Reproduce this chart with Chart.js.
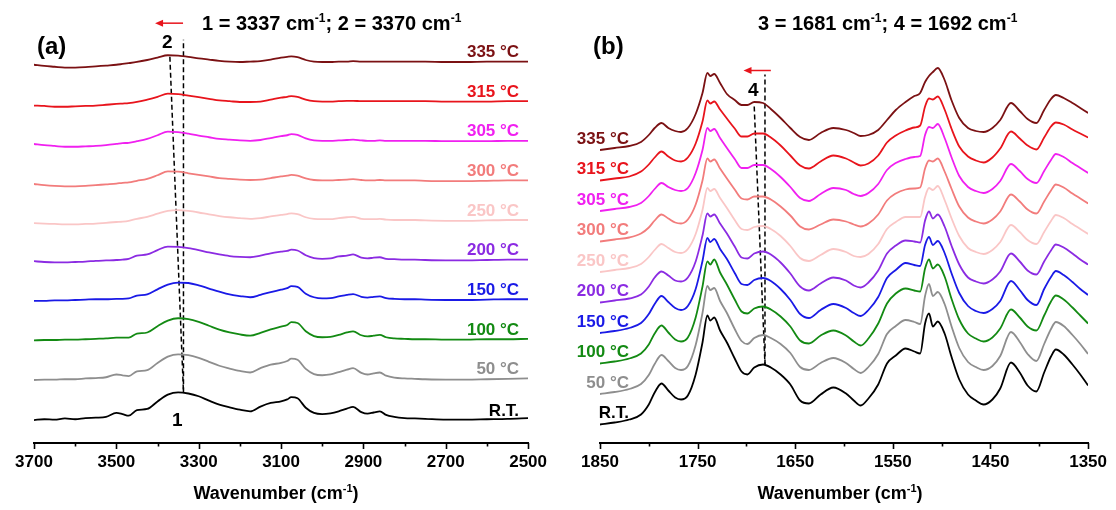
<!DOCTYPE html>
<html>
<head>
<meta charset="utf-8">
<script src="https://cdn.jsdelivr.net/npm/chart.js@4.4.1/dist/chart.umd.min.js"></script>
<style>
  html, body { margin: 0; padding: 0; background: #fff; }
  #wrap { position: relative; width: 1116px; height: 510px; }
  canvas { position: absolute; top: 0; }
</style>
</head>
<body>
<div id="wrap">
  <canvas id="panelA" width="556" height="510" style="left:0"></canvas>
  <canvas id="panelB" width="560" height="510" style="left:556px"></canvas>
</div>
<script>
const FONT = '"Liberation Sans", Arial, Helvetica, sans-serif';
const RED = '#E8141C';

// traces are listed bottom to top
const temps = ['R.T.', '50 °C', '100 °C', '150 °C', '200 °C', '250 °C', '300 °C', '305 °C', '315 °C', '335 °C'];
const colors = ['#000000', '#8E8E8E', '#138A13', '#1A1AE6', '#8B2BE2', '#FAC6C6', '#F27C7C', '#F020F0', '#E8141C', '#7B1113'];

// (a) 3700-2500 cm-1, absorbance x100 above each trace's baseline
const waveA = [3700, 3675, 3650, 3625, 3600, 3575, 3550, 3525, 3500, 3485, 3470, 3450, 3425, 3400, 3375,
  3350, 3325, 3300, 3275, 3250, 3225, 3200, 3175, 3150, 3125, 3100, 3085, 3075, 3060, 3040, 3020, 3000,
  2980, 2960, 2940, 2925, 2905, 2890, 2875, 2860, 2845, 2825, 2800, 2775, 2750, 2700, 2650, 2600, 2550, 2500];
const a_RT  = [-5,-3,-4,-1,-3,0,1,3,13,10,6,20,23,42,59,65,62,55,44,34,27,21,17,29,38,42,47,53,50,26,13,10,12,17,24,28,15,11,14,17,8,3,0,-1,-2,-4,-4,-3,-2,0];
const a_50  = [-4,-3,-3,-2,-2,0,1,3,10,8,6,18,21,39,55,61,59,52,42,32,25,19,15,26,35,39,44,50,47,24,11,8,10,16,22,26,14,10,13,15,7,2,0,-1,-2,-3,-3,-2,-1,0];
const a_100 = [-4,-3,-3,-2,-2,-1,0,1,3,3,3,13,16,32,46,52,50,43,33,23,16,11,8,15,24,31,35,42,40,19,7,4,5,10,16,19,9,6,8,10,4,1,0,-1,-1,-2,-2,-1,-1,0];
const a_150 = [-4,-4,-3,-3,-2,-1,0,0,1,1,2,9,12,25,37,42,41,35,27,19,12,8,5,11,18,24,28,33,31,14,5,2,3,7,11,13,6,4,6,7,3,1,0,0,-1,-2,-2,-1,0,0];
const a_200 = [-4,-6,-7,-7,-6,-5,-3,-2,-1,0,2,10,13,24,33,32,29,24,18,13,9,7,6,10,16,20,22,25,23,11,4,2,3,8,10,13,5,3,5,6,2,1,0,0,-1,-2,-2,-1,0,0];
const a_250 = [-8,-9,-10,-11,-11,-10,-9,-7,-5,-4,-2,3,8,16,23,25,23,19,14,10,7,5,3,5,9,13,15,17,15,7,3,2,2,5,7,8,3,2,2,3,1,0,0,0,-1,-2,-2,-1,0,0];
const a_300 = [-9,-12,-14,-15,-15,-14,-12,-10,-8,-6,-5,-1,4,13,23,22,18,14,10,6,4,2,1,2,6,10,12,14,12,5,1,0,0,1,2,3,1,0,0,1,0,0,0,0,-1,-2,-2,-1,0,0];
const a_305 = [-8,-11,-13,-15,-15,-14,-13,-11,-8,-6,-5,-1,5,14,23,22,18,13,9,5,3,1,0,2,7,12,14,17,15,6,1,0,0,1,2,3,1,0,0,1,0,0,0,0,0,-1,-1,-1,0,0];
const a_315 = [-11,-12,-14,-14,-13,-12,-11,-9,-7,-6,-5,-2,4,11,19,18,14,10,6,2,0,-2,-2,-1,4,9,11,13,11,4,0,-1,-1,0,1,1,0,0,0,0,0,0,0,0,0,-1,-1,-1,0,0];
const a_335 = [-8,-11,-13,-15,-15,-14,-12,-10,-8,-6,-4,-1,4,10,16,15,12,8,5,2,0,-1,0,1,5,10,12,13,11,4,0,-1,-1,0,0,1,0,0,0,0,0,0,0,0,0,-1,-1,0,0,0];
const seriesA = [a_RT, a_50, a_100, a_150, a_200, a_250, a_300, a_305, a_315, a_335];

// (b) 1850-1350 cm-1, intensity above the 1850 cm-1 start of each trace
const waveB = [1850, 1835, 1820, 1808, 1800, 1794, 1787, 1780, 1773, 1767, 1760, 1752, 1745, 1740, 1737, 1733,
  1727, 1720, 1712, 1705, 1699, 1692, 1683, 1675, 1665, 1655, 1645, 1636, 1624, 1611, 1598, 1590, 1583, 1575,
  1565, 1556, 1547, 1537, 1528, 1522, 1517, 1513, 1509, 1504, 1497, 1490, 1482, 1473, 1465, 1457, 1448, 1440,
  1429, 1420, 1412, 1403, 1395, 1388, 1383, 1375, 1366, 1358, 1350];
const b_RT  = [0,2,5,10,20,32,41,34,27,25,29,50,82,109,104,107,94,82,66,53,50,57,60,57,50,40,24,21,30,37,31,24,19,26,40,61,69,76,73,71,101,111,98,103,91,68,45,30,24,20,25,36,62,52,39,33,52,68,75,70,60,50,39];
const b_50  = [0,2,5,10,19,30,39,33,26,24,28,49,81,108,104,106,93,81,65,53,50,56,59,56,50,41,27,24,31,36,31,25,21,27,40,60,68,74,72,70,98,110,98,102,90,68,46,32,27,24,28,38,62,52,40,33,50,65,72,68,59,50,40];
const b_100 = [0,2,5,10,19,30,38,31,24,22,26,46,77,102,99,104,91,79,64,52,50,55,57,54,47,37,23,20,28,33,28,22,18,25,40,60,70,75,73,72,95,104,95,99,87,65,44,30,25,22,26,35,54,46,37,33,48,62,68,64,56,48,40];
const b_150 = [0,2,5,10,19,29,37,31,25,23,27,44,72,95,91,94,84,74,60,49,48,53,55,52,44,33,19,15,23,29,25,20,17,23,36,55,63,70,68,67,88,96,88,92,80,60,40,27,22,20,24,32,52,43,33,28,44,56,62,58,51,44,38];
const b_200 = [0,2,4,8,16,25,31,27,22,21,25,41,67,89,86,88,79,69,56,45,44,49,51,48,40,29,16,12,19,25,22,17,15,20,32,49,57,62,61,60,82,91,84,88,76,57,38,25,21,19,23,31,49,41,32,28,41,52,58,55,49,43,38];
const b_250 = [0,2,4,8,15,22,28,24,20,19,23,38,62,84,81,83,74,64,52,43,42,45,46,43,36,26,14,11,17,23,20,16,15,18,28,43,50,55,55,55,75,84,82,86,72,54,36,24,20,18,22,30,47,40,32,28,40,51,57,54,48,43,38];
const b_300 = [0,2,4,8,14,21,27,23,19,18,22,37,61,83,80,82,73,63,52,43,42,45,45,42,35,26,15,12,17,22,20,17,15,18,27,41,48,52,53,54,73,81,80,83,70,53,35,24,20,18,22,30,47,40,32,28,40,51,57,54,48,43,38];
const b_305 = [0,2,4,8,15,22,28,24,21,20,23,38,61,83,80,82,73,63,52,43,43,46,46,42,34,24,13,10,17,23,21,17,15,18,27,41,48,52,54,55,76,84,83,87,73,54,35,24,20,18,22,30,47,40,32,28,40,51,57,54,48,43,38];
const b_315 = [0,2,4,9,16,23,29,24,20,19,23,37,59,80,77,79,71,62,52,44,44,47,47,43,35,25,15,12,19,25,22,18,15,17,25,38,45,50,53,55,74,82,81,84,71,52,34,24,20,18,23,32,49,42,35,31,43,54,58,56,51,47,43];
const b_335 = [0,2,4,8,15,22,27,22,19,18,22,36,57,77,74,76,67,56,50,45,45,48,47,41,32,22,13,10,17,22,20,17,14,15,20,30,40,48,54,57,68,74,78,82,70,50,32,22,19,18,22,30,47,39,31,27,40,51,55,52,47,42,37];
const seriesB = [b_RT, b_50, b_100, b_150, b_200, b_250, b_300, b_305, b_315, b_335];

// vertical spacing between stacked traces
const STEP_A = 100;
const STEP_B = 30.5;

function traces(wave, series, step) {
  return series.map((vals, i) => ({
    data: wave.map((w, j) => ({ x: w, y: vals[j] + i * step })),
    borderColor: colors[i],
    borderWidth: 1.8,
    pointRadius: 0,
    cubicInterpolationMode: 'monotone',
  }));
}

function dashed(points) {
  return {
    data: points,
    borderColor: '#000',
    borderWidth: 1.5,
    borderDash: [5, 3],
    pointRadius: 0,
  };
}

// text with superscript pieces, e.g. cm-1
function richText(ctx, parts, x, y, size, align) {
  const widths = parts.map(([t, sup]) => {
    ctx.font = `bold ${sup ? Math.round(size * 0.62) : size}px ${FONT}`;
    return ctx.measureText(t).width;
  });
  const total = widths.reduce((s, w) => s + w, 0);
  let cx = align === 'center' ? x - total / 2 : x;
  ctx.textAlign = 'left';
  ctx.textBaseline = 'alphabetic';
  parts.forEach(([t, sup], i) => {
    ctx.font = `bold ${sup ? Math.round(size * 0.62) : size}px ${FONT}`;
    ctx.fillText(t, cx, sup ? y - size * 0.4 : y);
    cx += widths[i];
  });
}

function makeDecor(cfg) {
  return {
    id: 'decor',
    afterDatasetsDraw(chart) {
      const { ctx, chartArea: area, scales: { x, y } } = chart;
      ctx.save();

      // tick marks below the axis line, longer where labelled
      ctx.strokeStyle = '#000';
      ctx.lineWidth = 1.6;
      x.ticks.forEach(t => {
        const px = Math.round(x.getPixelForValue(t.value)) + 0.5;
        const len = t.label === '' ? 3.5 : 6;
        ctx.beginPath();
        ctx.moveTo(px, area.bottom);
        ctx.lineTo(px, area.bottom + len);
        ctx.stroke();
      });

      // temperature next to each trace
      ctx.font = `bold 17px ${FONT}`;
      ctx.textBaseline = 'middle';
      ctx.textAlign = 'right';
      temps.forEach((t, i) => {
        ctx.fillStyle = colors[i];
        const base = y.getPixelForValue(i * cfg.step);
        ctx.fillText(t, cfg.labelX(area), base - cfg.labelLift(i));
      });

      // peak numbers
      ctx.fillStyle = '#000';
      ctx.font = `bold 19px ${FONT}`;
      ctx.textAlign = 'center';
      cfg.peakTags.forEach(p => {
        ctx.fillText(p.text, x.getPixelForValue(p.w), y.getPixelForValue(p.v));
      });

      // shift arrow
      const ay = y.getPixelForValue(cfg.arrow.v);
      const tail = x.getPixelForValue(cfg.arrow.from);
      const head = x.getPixelForValue(cfg.arrow.to);
      ctx.strokeStyle = RED;
      ctx.fillStyle = RED;
      ctx.lineWidth = 1.5;
      ctx.beginPath();
      ctx.moveTo(tail, ay);
      ctx.lineTo(head + 6, ay);
      ctx.stroke();
      ctx.beginPath();
      ctx.moveTo(head, ay);
      ctx.lineTo(head + 8, ay - 3.5);
      ctx.lineTo(head + 8, ay + 3.5);
      ctx.closePath();
      ctx.fill();

      // headline, panel letter, axis title
      ctx.fillStyle = '#000';
      richText(ctx, cfg.title, cfg.titleX, 30, 20, 'left');
      ctx.font = `bold 24px ${FONT}`;
      ctx.textAlign = 'left';
      ctx.textBaseline = 'middle';
      ctx.fillText(cfg.panel, 37, cfg.panelY);
      richText(ctx, [['Wavenumber (cm', false], ['-1', true], [')', false]],
        cfg.axisTitleX, 499, 18, 'center');

      ctx.restore();
    }
  };
}

function panel(canvasId, opts) {
  return new Chart(document.getElementById(canvasId), {
    type: 'line',
    data: { datasets: opts.datasets },
    options: {
      responsive: false,
      animation: false,
      events: [],
      layout: { padding: opts.padding },
      plugins: { legend: { display: false }, tooltip: { enabled: false } },
      scales: {
        x: {
          type: 'linear',
          reverse: true,
          min: opts.xMin,
          max: opts.xMax,
          afterFit: s => { s.height = 67; },
          grid: { display: false, drawTicks: false },
          border: { display: true, color: '#000', width: 2 },
          ticks: {
            stepSize: opts.xStep,
            autoSkip: false,
            maxRotation: 0,
            padding: 9,
            color: '#000',
            font: { family: FONT, size: 17, weight: 'bold' },
            callback: v => (opts.labelled(v) ? String(v) : ''),
          },
        },
        y: { display: false, min: opts.yMin, max: opts.yMax },
      },
    },
    plugins: [makeDecor(opts.decor)],
  });
}

panel('panelA', {
  datasets: [
    ...traces(waveA, seriesA, STEP_A),
    dashed([{ x: 3337, y: 65 }, { x: 3337, y: 955 }]),
    dashed([{ x: 3370, y: 912 }, { x: 3337, y: 65 }]),
  ],
  padding: { left: 34, right: 27, top: 20, bottom: 0 },
  xMin: 2500, xMax: 3700, xStep: 100,
  labelled: v => v % 200 === 100,
  yMin: -63, yMax: 1005,
  decor: {
    step: STEP_A,
    labelX: area => area.right - 9,
    labelLift: i => (i === 0 ? 7 : 9),
    peakTags: [{ text: '2', w: 3376, v: 947 }, { text: '1', w: 3352, v: -7 }],
    arrow: { from: 3338, to: 3406, v: 997 },
    title: [['1 = 3337 cm', false], ['-1', true], ['; 2 = 3370 cm', false], ['-1', true]],
    titleX: 202,
    panel: '(a)',
    panelY: 47,
    axisTitleX: 276,
  },
});

panel('panelB', {
  datasets: [
    ...traces(waveB, seriesB, STEP_B),
    dashed([{ x: 1681, y: 60 }, { x: 1681, y: 350 }]),
    dashed([{ x: 1692, y: 318 }, { x: 1681, y: 60 }]),
  ],
  padding: { left: 44, right: 22, top: 20, bottom: 0 },
  xMin: 1350, xMax: 1850, xStep: 50,
  labelled: v => v % 100 === 50,
  yMin: -18.5, yMax: 404.5,
  decor: {
    step: STEP_B,
    labelX: area => area.left + 29,
    labelLift: () => 11,
    peakTags: [{ text: '4', w: 1693, v: 334 }],
    arrow: { from: 1675, to: 1703, v: 354 },
    title: [['3 = 1681 cm', false], ['-1', true], ['; 4 = 1692 cm', false], ['-1', true]],
    titleX: 202,
    panel: '(b)',
    panelY: 47,
    axisTitleX: 284,
  },
});
</script>
</body>
</html>
